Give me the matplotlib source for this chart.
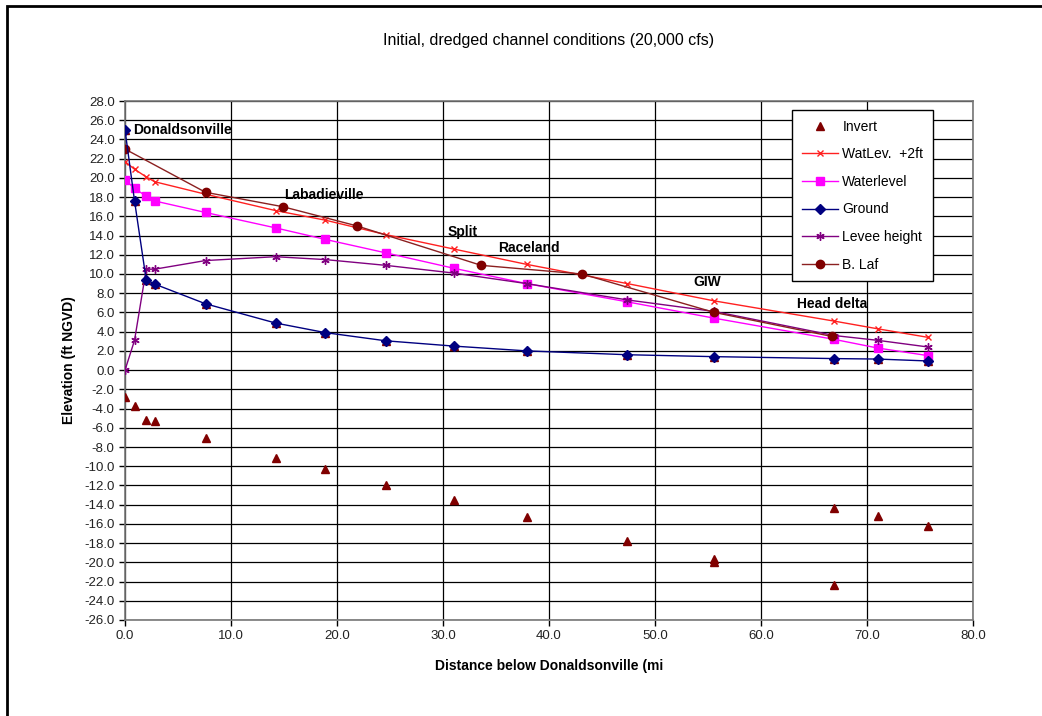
import matplotlib
matplotlib.use("Agg")
import matplotlib.pyplot as plt
from matplotlib.patches import Rectangle
import numpy as np

# distance below Donaldsonville (mi) for the main survey stations
dist = [0.0, 0.9, 2.0, 2.8, 7.6, 14.2, 18.9, 24.6, 31.0, 37.9, 47.4, 55.6, 66.9, 71.0, 75.8]

watlev_2ft = [21.7, 20.9, 20.1, 19.6, 18.3, 16.6, 15.6, 14.1, 12.6, 11.0, 9.0, 7.2, 5.1, 4.3, 3.4]
waterlevel = [19.8, 18.9, 18.1, 17.6, 16.4, 14.8, 13.6, 12.2, 10.6, 9.0, 7.1, 5.4, 3.2, 2.3, 1.5]
ground = [25.0, 17.6, 9.4, 8.95, 6.9, 4.9, 3.9, 3.05, 2.5, 2.0, 1.6, 1.4, 1.2, 1.15, 0.95]
levee = [0.0, 3.1, 10.5, 10.5, 11.4, 11.8, 11.5, 10.9, 10.1, 9.0, 7.3, 6.1, 3.6, 3.1, 2.4]

invert_x = [0.0, 0.9, 2.0, 2.8, 7.6, 14.2, 18.9, 24.6, 31.0, 37.9, 47.4, 55.6, 55.6, 66.9, 66.9, 71.0, 75.8]
invert_y = [-2.8, -3.7, -5.2, -5.3, -7.1, -9.1, -10.3, -12.0, -13.5, -15.3, -17.8, -19.7, -20.0, -14.3, -22.4, -15.2, -16.2]

blaf_x = [0.0, 7.6, 14.9, 21.9, 33.6, 43.1, 55.6, 66.7]
blaf_y = [23.0, 18.5, 17.0, 15.0, 10.9, 10.0, 6.0, 3.5]

# place names written on the chart: (text, x, y)
places = [("Donaldsonville", 0.8, 25.0), ("Labadieville", 15.0, 18.2), ("Split", 30.4, 14.4),
          ("Raceland", 35.2, 12.7), ("GIW", 53.6, 9.2), ("Head delta", 63.4, 6.9)]

plt.rcParams['font.family'] = ['Liberation Sans', 'DejaVu Sans']

fig = plt.figure(figsize=(10.42, 7.16), dpi=100)
ax = fig.add_axes([125/1042, 1-620/716, 848/1042, 519/716])

# outer chart frame (right and bottom edges fall outside the picture)
fig.patches.append(Rectangle((7/1042, -0.1), 1.2, 1.1-6/716, transform=fig.transFigure,
                             fill=False, edgecolor='black', lw=2))

ax.set_xlim(0, 80)
ax.set_ylim(-26, 28)
ax.set_xticks(np.arange(0, 81, 10))
ax.set_yticks(np.arange(-26, 29, 2))
ax.xaxis.set_major_formatter(matplotlib.ticker.FormatStrFormatter('%.1f'))
ax.yaxis.set_major_formatter(matplotlib.ticker.FormatStrFormatter('%.1f'))
ax.tick_params(labelsize=9.5, length=4, width=1, colors='black', labelcolor='#222222')
ax.grid(True, color='black', lw=0.9)
ax.set_axisbelow(True)
for s in ax.spines.values():
    s.set_color('#777777')
    s.set_linewidth(1.2)

ms = 5
# invert triangles that sit under the ground markers
ax.plot(dist, ground, ls='none', marker='^', color='#800000', ms=ms + 1, zorder=2)
ax.plot(invert_x, invert_y, ls='none', marker='^', color='#800000', ms=ms + 1, label='Invert', zorder=3)
ax.plot(dist, watlev_2ft, color='#FF2020', lw=1, marker='x', ms=ms, mew=1, label='WatLev.  +2ft', zorder=3)
ax.plot(dist, waterlevel, color='#FF00FF', lw=1, marker='s', ms=ms + 1, label='Waterlevel', zorder=3)
ax.plot(dist, ground, color='#000080', lw=1, marker='D', ms=ms, label='Ground', zorder=4)
ax.plot(dist, levee, color='#800080', lw=1, marker=(6, 2, 0), ms=ms + 1, mew=1, label='Levee height', zorder=3)
ax.plot(blaf_x, blaf_y, color='#8B2020', lw=1, marker='o', ms=ms + 1, mfc='#800000', mec='#800000',
        label='B. Laf', zorder=3)

for name, x, y in places:
    ax.text(x, y, name, fontsize=10, fontweight='bold', va='center', ha='left', zorder=5)

ax.set_title('Initial, dredged channel conditions (20,000 cfs)', fontsize=11.5, pad=40)
ax.set_xlabel('Distance below Donaldsonville (mi', fontsize=10, fontweight='bold', labelpad=12)
ax.set_ylabel('Elevation (ft NGVD)', fontsize=10, fontweight='bold', labelpad=6)

leg = ax.legend(loc='upper left', bbox_to_anchor=(0.787, 0.983), fontsize=10, frameon=True,
                fancybox=False, edgecolor='black', framealpha=1, labelspacing=0.98,
                handlelength=2.6, borderpad=0.7, handletextpad=0.3, borderaxespad=0)
leg.get_frame().set_linewidth(1)
leg.set_zorder(10)

fig.savefig('out.png', dpi=100)
